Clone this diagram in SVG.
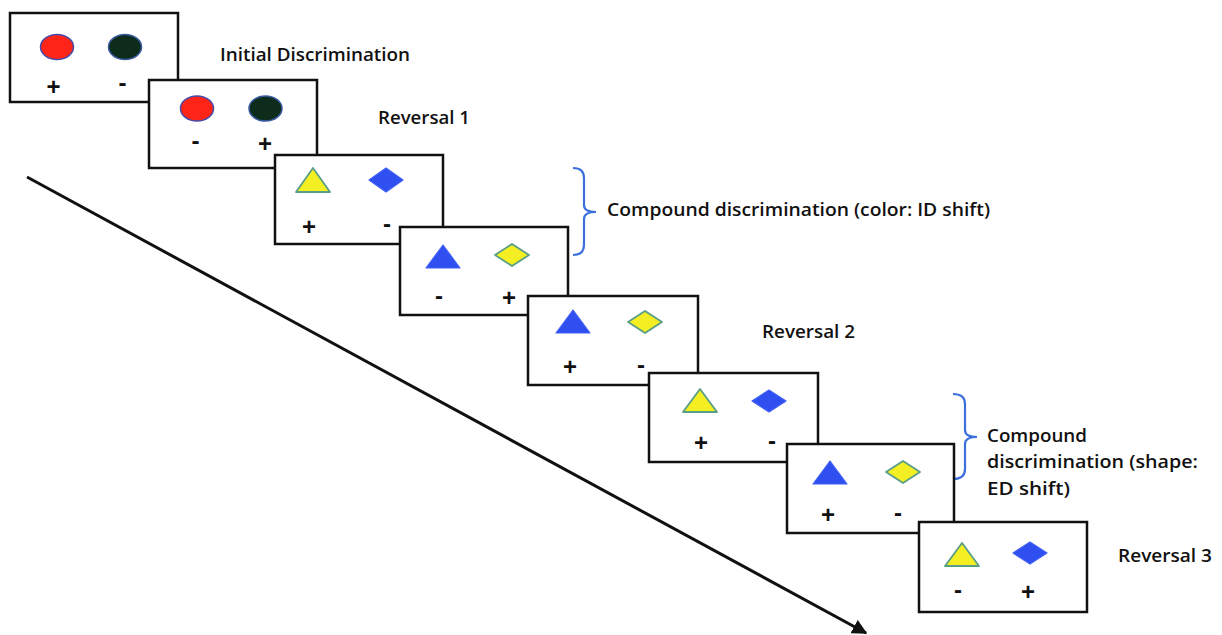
<svg xmlns="http://www.w3.org/2000/svg" width="1222" height="635" viewBox="0 0 1222 635">
<style>
.card{fill:#fff;stroke:#111;stroke-width:2.5}
.lbl{font-family:"Open Sans","Liberation Sans",sans-serif;font-size:18px;font-weight:600;fill:#111}
.sign{font-family:"Liberation Sans",Arial,sans-serif;font-size:24px;font-weight:bold;fill:#111;text-anchor:middle}
.red{fill:#ff2418;stroke:#4a4aa8;stroke-width:1.5}
.dark{fill:#0e2c1c;stroke:#3a5aa0;stroke-width:1.5}
.yel{fill:#f3ef22;stroke:#5a9e86;stroke-width:1.8;stroke-linejoin:round}
.blu{fill:#2f4ff0;stroke:#3f5ff5;stroke-width:1.2;stroke-linejoin:round}
.brace{fill:none;stroke:#3a6fdc;stroke-width:2.2}
</style>
<defs>
<marker id="ah" viewBox="0 0 10 10" refX="9" refY="5" markerWidth="5" markerHeight="5" orient="auto" markerUnits="strokeWidth">
<path d="M0,0 L10,5 L0,10 z" fill="#111"/>
</marker>
</defs>
<rect width="1222" height="635" fill="#fff"/>

<g id="connectors">
<line x1="27" y1="177" x2="866" y2="633" stroke="#111" stroke-width="3" marker-end="url(#ah)"/>
<path class="brace" d="M573,168 Q584,168 584,178 L584,205 Q584,212 596,212 Q584,212 584,219 L584,245 Q584,255 573,255"/>
<path class="brace" d="M953,394 Q965,394 965,404 L965,430 Q965,437 977,437 Q965,437 965,444 L965,469 Q965,479 953,479"/>
</g>

<g id="card1">
<rect class="card" x="10" y="13" width="168" height="89"/>
<ellipse class="red" cx="57" cy="47" rx="16.5" ry="12.5"/>
<ellipse class="dark" cx="125" cy="47" rx="16.5" ry="12.5"/>
<text class="sign" x="53.5" y="94.5">+</text>
<text class="sign" x="122.5" y="91">-</text>
</g>

<g id="card2">
<rect class="card" x="149" y="80" width="168" height="88"/>
<ellipse class="red" cx="197" cy="108.5" rx="16.5" ry="12.5"/>
<ellipse class="dark" cx="265.5" cy="108.5" rx="16.5" ry="12.5"/>
<text class="sign" x="195.5" y="149">-</text>
<text class="sign" x="265" y="151.5">+</text>
</g>

<g id="card3">
<rect class="card" x="275" y="155" width="168" height="89"/>
<polygon class="yel" points="313,168 330,192 296,192"/>
<polygon class="blu" points="386,168 403,180 386,192 369,180"/>
<text class="sign" x="309" y="235">+</text>
<text class="sign" x="387" y="232">-</text>
</g>

<g id="card4">
<rect class="card" x="400" y="227" width="168" height="88"/>
<polygon class="blu" points="443,245 460,268 426,268"/>
<polygon class="yel" points="512,244 529,255 512,266 495,255"/>
<text class="sign" x="439" y="304">-</text>
<text class="sign" x="509" y="305.5">+</text>
</g>

<g id="card5">
<rect class="card" x="528" y="296" width="170" height="89"/>
<polygon class="blu" points="573,310 590,333 556,333"/>
<polygon class="yel" points="645,311 662,322 645,333 628,322"/>
<text class="sign" x="570" y="375">+</text>
<text class="sign" x="641" y="373">-</text>
</g>

<g id="card6">
<rect class="card" x="649" y="373" width="169" height="89"/>
<polygon class="yel" points="700,389 717,412 683,412"/>
<polygon class="blu" points="769,390 786,401 769,412 752,401"/>
<text class="sign" x="701" y="451">+</text>
<text class="sign" x="772" y="449">-</text>
</g>

<g id="card7">
<rect class="card" x="787" y="444" width="167" height="89"/>
<polygon class="blu" points="830,461 847,484 813,484"/>
<polygon class="yel" points="903,461 920,472 903,483 886,472"/>
<text class="sign" x="828" y="523">+</text>
<text class="sign" x="898" y="521">-</text>
</g>

<g id="card8">
<rect class="card" x="919" y="522" width="168" height="90"/>
<polygon class="yel" points="962,543 979,566 945,566"/>
<polygon class="blu" points="1030,542 1047,553 1030,564 1013,553"/>
<text class="sign" x="958" y="598">-</text>
<text class="sign" x="1028" y="600">+</text>
</g>

<g id="labels">
<text class="lbl" x="220" y="61" textLength="190" lengthAdjust="spacingAndGlyphs">Initial Discrimination</text>
<text class="lbl" x="378" y="124" textLength="92" lengthAdjust="spacingAndGlyphs">Reversal 1</text>
<text class="lbl" x="607" y="216" textLength="383" lengthAdjust="spacingAndGlyphs">Compound discrimination (color: ID shift)</text>
<text class="lbl" x="762" y="338" textLength="93" lengthAdjust="spacingAndGlyphs">Reversal 2</text>
<text class="lbl" x="987" y="442" textLength="100" lengthAdjust="spacingAndGlyphs">Compound</text>
<text class="lbl" x="987" y="468" textLength="211" lengthAdjust="spacingAndGlyphs">discrimination (shape:</text>
<text class="lbl" x="987" y="495" textLength="83" lengthAdjust="spacingAndGlyphs">ED shift)</text>
<text class="lbl" x="1118" y="562" textLength="94" lengthAdjust="spacingAndGlyphs">Reversal 3</text>
</g>
</svg>
